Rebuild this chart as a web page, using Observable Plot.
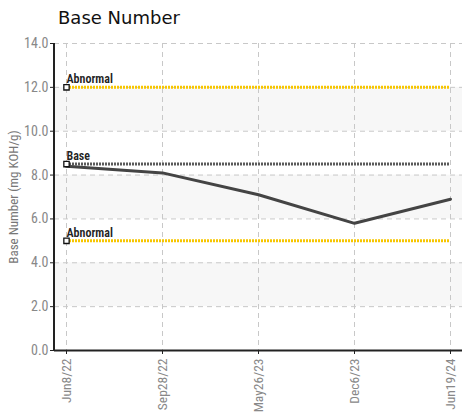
<!DOCTYPE html>
<html>
<head>
<meta charset="utf-8">
<script src="https://cdn.jsdelivr.net/npm/d3@7"></script>
<script src="https://cdn.jsdelivr.net/npm/@observablehq/plot@0.6"></script>
<style>
  html, body { margin: 0; padding: 0; background: #fff; }
  #title { height: 33px; box-sizing: border-box; padding-left: 58px; padding-top: 7px;
           font-family: "DejaVu Sans", sans-serif; font-size: 18px; color: #111; line-height: 22px; }
  svg { display: block; font-family: "Roboto Condensed", "Liberation Sans Narrow", "DejaVu Sans Condensed", "Roboto", sans-serif; }
</style>
</head>
<body>
<div id="title">Base Number</div>
<div id="chart"></div>
<script>
const dates = ["Jun8/22", "Sep28/22", "May26/23", "Dec6/23", "Jun19/24"];
const values = [8.4, 8.1, 7.1, 5.8, 6.9];
const limitLabels = ["Abnormal", "Base", "Abnormal"];
const limitValues = [12, 8.5, 5];
const limitColors = ["#f7c600", "#5a5a5a", "#f7c600"];
const yTicks = [0, 2, 4, 6, 8, 10, 12, 14];
const bandLow = [2, 6, 10];
const bandHigh = [4, 8, 12];

const series = dates.map((d, i) => ({date: d, value: values[i]}));
const limits = limitValues.map((v, i) => ({label: limitLabels[i], value: v, color: limitColors[i]}));
const bands = bandLow.map((b, i) => ({y1: b, y2: bandHigh[i]}));
const first = dates[0], last = dates[dates.length - 1];

const chart = Plot.plot({
  width: 470,
  height: 382,
  marginTop: 10,
  marginLeft: 54,
  marginRight: 8,
  marginBottom: 65,
  style: {fontSize: "12px"},
  x: {type: "point", domain: dates, padding: 0.125, label: null},
  y: {domain: [0, 14], label: null},
  marks: [
    Plot.rect(bands, {y1: "y1", y2: "y2", fill: "#f7f7f7"}),
    Plot.gridY({ticks: yTicks, stroke: "#c8c8c8", strokeOpacity: 1, strokeDasharray: "5,4"}),
    Plot.gridX({stroke: "#c8c8c8", strokeOpacity: 1, strokeDasharray: "5,4"}),
    Plot.ruleY(limits, {y: "value", x1: () => first, x2: () => last, stroke: d => d.color,
                        strokeWidth: 3, strokeDasharray: "2,1"}),
    Plot.line(series, {x: "date", y: "value", stroke: "#444", strokeWidth: 3}),
    Plot.dot(limits, {x: () => first, y: "value", symbol: "square", r: 3, fill: "white", stroke: "#111", strokeWidth: 1.3}),
    Plot.text(limits, {x: () => first, y: "value", text: "label", dy: -8, textAnchor: "start",
                       fill: "#222", fontWeight: "600", fontSize: 12}),
    Plot.axisY({ticks: yTicks, tickFormat: d => d.toFixed(1), tickSize: 4, tickPadding: 2,
                color: "#888", stroke: "#222", fontSize: 14, label: null}),
    Plot.axisX({tickRotate: -90, tickSize: 4, tickPadding: 4, color: "#888", stroke: "#222",
                fontSize: 13.5, label: null}),
    Plot.ruleY([0], {stroke: "#222", strokeWidth: 2}),
    Plot.text(["Base Number (mg KOH/g)"], {frameAnchor: "left", rotate: -90, dx: -41, fill: "#777",
                fontSize: 13, textAnchor: "middle"})
  ]
});

const svg = d3.select(chart);
svg.append("line").attr("x1", 54).attr("x2", 54).attr("y1", 10).attr("y2", 317)
   .attr("stroke", "#222").attr("stroke-width", 2);
document.getElementById("chart").appendChild(chart);
</script>
</body>
</html>
